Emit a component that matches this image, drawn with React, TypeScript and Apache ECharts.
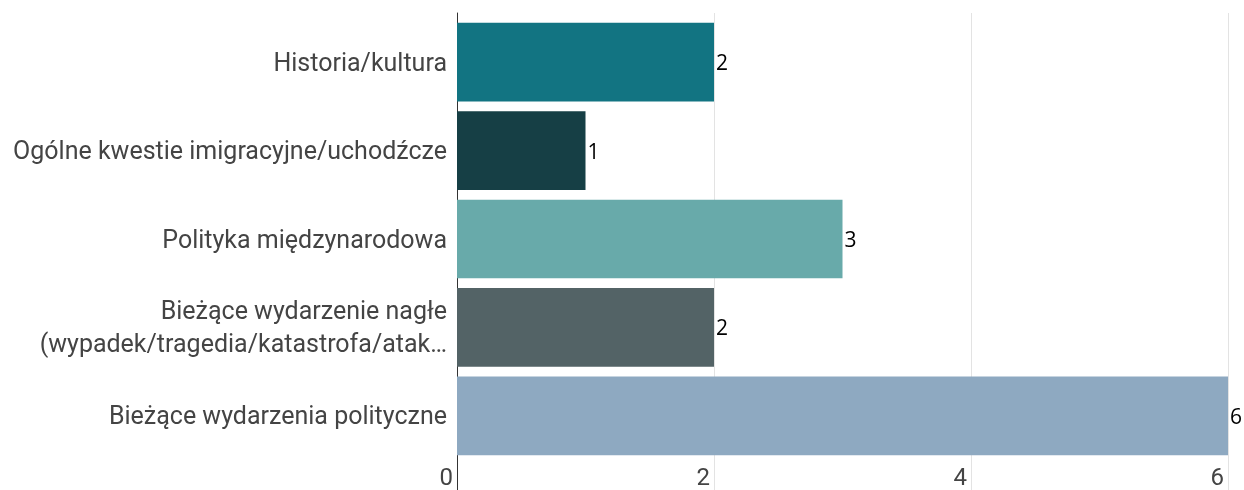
import React, { useEffect, useRef } from "react";
import * as echarts from "echarts";

const categories = [
  "Historia/kultura",
  "Ogólne kwestie imigracyjne/uchodźcze",
  "Polityka międzynarodowa",
  "Bieżące wydarzenie nagłe\n(wypadek/tragedia/katastrofa/atak…",
  "Bieżące wydarzenia polityczne",
];
const values = [2, 1, 3, 2, 6];
const barColors = ["#127482", "#163f45", "#68aaaa", "#536366", "#8ea9c1"];
const xTicks = { min: 0, max: 6, interval: 2 };

export default function App() {
  const ref = useRef<HTMLDivElement>(null);
  useEffect(() => {
    if (!ref.current) return;
    const chart = echarts.init(ref.current, null, { renderer: "svg" });
    chart.setOption({
      animation: false,
      grid: [
        { left: 457, right: 16, top: 18, height: 442, containLabel: false },
        { left: 457, right: 16, top: 13, bottom: 0, containLabel: false },
      ],
      xAxis: [
        {
          gridIndex: 0,
          type: "value",
          min: xTicks.min,
          max: xTicks.max,
          interval: xTicks.interval,
          axisLine: { show: false },
          axisTick: { show: false },
          splitLine: { show: false },
          axisLabel: {
            align: "right",
            padding: [0, 4, 0, 0],
            margin: 5,
            fontSize: 24,
            lineHeight: 24,
            color: "#444444",
            fontFamily: "Roboto",
          },
        },
        {
          gridIndex: 1,
          type: "value",
          min: xTicks.min,
          max: xTicks.max,
          interval: xTicks.interval,
          axisLine: { show: false },
          axisTick: { show: false },
          axisLabel: { show: false },
          splitLine: { show: true, lineStyle: { color: "#e3e3e3", width: 1 } },
        },
      ],
      yAxis: [
        {
          gridIndex: 0,
          type: "category",
          data: categories,
          inverse: true,
          axisLine: { show: false },
          axisTick: { show: false },
          axisLabel: {
            margin: 10,
            fontSize: 25,
            lineHeight: 33,
            color: "#444444",
            fontFamily: "Roboto",
            align: "right",
          },
        },
        {
          gridIndex: 1,
          type: "value",
          min: 0,
          max: 1,
          axisLine: { show: true, lineStyle: { color: "#333333", width: 1 } },
          axisTick: { show: false },
          axisLabel: { show: false },
          splitLine: { show: false },
        },
      ],
      series: [
        {
          type: "bar",
          xAxisIndex: 0,
          yAxisIndex: 0,
          barCategoryGap: "11%",
          data: values.map((v, i) => ({ value: v, itemStyle: { color: barColors[i] } })),
          label: {
            show: true,
            position: "right",
            distance: 2,
            fontSize: 21,
            color: "#000000",
            fontFamily: "Open Sans",
          },
        },
      ],
    });
    return () => chart.dispose();
  }, []);
  return (
    <div
      ref={ref}
      style={{ position: "fixed", left: 0, top: 0, width: 1244, height: 490 }}
    />
  );
}
